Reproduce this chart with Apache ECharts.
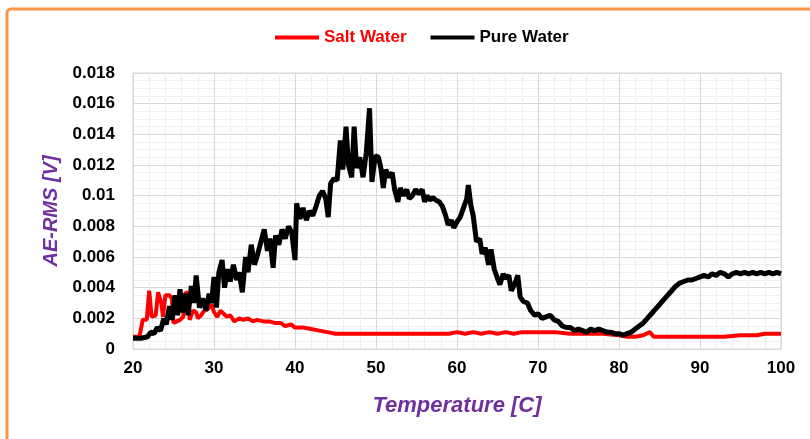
<!DOCTYPE html>
<html>
<head>
<meta charset="utf-8">
<script src="https://cdn.jsdelivr.net/npm/echarts@6/dist/echarts.min.js"></script>
<style>
html,body{margin:0;padding:0;background:#fff;}
#chart{width:810px;height:439px;}
</style>
</head>
<body>
<div id="chart"></div>
<script>
// Pure Water (black) series
var pureTemp = [20,21,21.8,22.2,22.6,23.0,23.4,23.8,24.1,24.5,24.8,25.2,25.5,25.8,26.1,26.5,26.8,27.2,27.5,27.8,28.2,28.6,29.0,29.4,29.7,30.0,30.3,30.6,31.0,31.3,31.7,32.0,32.4,32.8,33.1,33.5,33.9,34.2,34.6,35.0,35.4,35.8,36.2,36.6,36.9,37.3,37.6,38.0,38.4,38.8,39.2,39.6,40.0,40.2,40.6,41.0,41.4,41.8,42.2,42.6,43.0,43.4,43.8,44.1,44.4,44.8,45.2,45.6,45.9,46.3,46.6,47.0,47.3,47.6,48.0,48.4,48.8,49.2,49.5,49.9,50.3,50.6,50.9,51.2,51.6,52.0,52.3,52.7,53.0,53.4,53.8,54.1,54.5,54.9,55.3,55.7,56.0,56.3,56.7,57.0,57.4,57.8,58.2,58.6,58.9,59.3,59.6,60.0,60.4,60.8,61.2,61.4,61.7,62.0,62.4,62.8,63.1,63.5,63.9,64.2,64.6,65.0,65.3,65.7,66.0,66.4,66.7,67.1,67.5,67.8,68.2,68.7,69.1,69.6,70.0,70.5,71.0,71.5,72.0,72.5,73.0,73.5,74.0,74.5,75.0,75.5,76.0,76.5,77.0,77.5,78.0,78.5,79.0,79.5,80.0,80.5,81.0,81.5,82.0,82.5,83.0,83.5,84.0,84.5,85.0,85.5,86.0,86.5,87.0,87.5,88.0,88.5,89.0,89.5,90.0,90.5,91.0,91.5,92.0,92.5,93.0,93.5,94.0,94.5,95.0,95.5,96.0,96.5,97.0,97.5,98.0,98.5,99.0,99.5,100];
var pureValues = [0.0007,0.0007,0.0008,0.0011,0.0010,0.0014,0.0012,0.0020,0.0016,0.0028,0.0019,0.0035,0.0022,0.0039,0.0024,0.0036,0.0022,0.0041,0.0030,0.0048,0.0027,0.0033,0.0025,0.0036,0.0030,0.0047,0.0027,0.0050,0.0058,0.0040,0.0052,0.0044,0.0055,0.0045,0.0050,0.0037,0.0060,0.0050,0.0068,0.0055,0.0062,0.0070,0.0078,0.0064,0.0072,0.0053,0.0074,0.0068,0.0078,0.0072,0.0080,0.0076,0.0058,0.0095,0.0085,0.0092,0.0084,0.0090,0.0087,0.0093,0.0100,0.0103,0.0098,0.0086,0.0108,0.0111,0.0110,0.0136,0.0117,0.0145,0.0120,0.0112,0.0145,0.0118,0.0125,0.0112,0.0128,0.0157,0.0109,0.0126,0.0125,0.0118,0.0105,0.0117,0.0112,0.0115,0.0104,0.0096,0.0105,0.0100,0.0104,0.0098,0.0100,0.0104,0.0101,0.0104,0.0096,0.0100,0.0097,0.0099,0.0097,0.0096,0.0093,0.0087,0.0081,0.0084,0.0079,0.0083,0.0086,0.0092,0.0098,0.0107,0.0094,0.0087,0.0070,0.0072,0.0062,0.0066,0.0055,0.0065,0.0052,0.0046,0.0042,0.0049,0.0046,0.0048,0.0038,0.0042,0.0048,0.0034,0.0031,0.0030,0.0025,0.0022,0.0023,0.0020,0.0021,0.0022,0.0019,0.0018,0.0015,0.0014,0.0014,0.0012,0.0013,0.0012,0.0011,0.0013,0.0012,0.0013,0.0012,0.0011,0.0011,0.0010,0.0010,0.0009,0.0010,0.0011,0.0013,0.0015,0.0017,0.0020,0.0023,0.0026,0.0029,0.0032,0.0035,0.0038,0.0041,0.0043,0.0044,0.0045,0.0045,0.0046,0.0047,0.0048,0.0047,0.0049,0.0048,0.0050,0.0049,0.0047,0.0049,0.0050,0.0049,0.0050,0.0049,0.0050,0.0049,0.0050,0.0049,0.0050,0.0049,0.0050,0.0049];

// Salt Water (red) series
var saltTemp = [20,20.8,21.2,21.7,22.0,22.3,22.8,23.1,23.5,23.7,24.0,24.5,24.8,25.0,25.4,25.8,26.2,26.5,26.8,27.0,27.4,27.8,28.0,28.4,28.8,29.2,29.7,30.0,30.4,30.8,31.2,31.6,32.0,32.5,33.1,33.6,34.2,34.8,35.3,36.1,36.8,37.5,38.2,38.8,39.5,40,41,42,43,44,45,47,49,51,53,55,57,59,60,61,62,63,64,65,66,67,68,69,70,72,74,76,78,80,81,82,83,83.8,84.3,85,87,89,91,93,95,97,98,100];
var saltValues = [0.0008,0.0008,0.0019,0.0019,0.0038,0.0021,0.0022,0.0037,0.0030,0.0021,0.0035,0.0035,0.0033,0.0017,0.0018,0.0019,0.0021,0.0037,0.0036,0.0019,0.0025,0.0024,0.0020,0.0022,0.0025,0.0026,0.0029,0.0024,0.0021,0.0025,0.0023,0.0021,0.0022,0.0018,0.0020,0.0019,0.0020,0.0018,0.0019,0.0018,0.0018,0.0017,0.0017,0.0015,0.0016,0.0014,0.0014,0.0013,0.0012,0.0011,0.0010,0.0010,0.0010,0.0010,0.0010,0.0010,0.0010,0.0010,0.0011,0.0010,0.0011,0.0010,0.0011,0.0010,0.0011,0.0010,0.0011,0.0011,0.0011,0.0011,0.0010,0.0010,0.0010,0.0009,0.0008,0.0008,0.0009,0.0011,0.0008,0.0008,0.0008,0.0008,0.0008,0.0008,0.0009,0.0009,0.0010,0.0010];

var xTicks = [20,30,40,50,60,70,80,90,100];
var yTicks = ['0','0.002','0.004','0.006','0.008','0.01','0.012','0.014','0.016','0.018'];

function pairs(xs, ys){ return xs.map(function(x,i){ return [x, ys[i]]; }); }

var FONT = "'Liberation Sans Narrow','Liberation Sans','Noto Sans',sans-serif";
var chart = echarts.init(document.getElementById('chart'), null, {renderer:'canvas'});
chart.setOption({
  backgroundColor:'#ffffff',
  animation:false,
  graphic:[{
    type:'rect', z:-10,
    shape:{x:7, y:9, width:840, height:480, r:4},
    style:{fill:'none', stroke:'#F79646', lineWidth:3}
  }],
  legend:{
    top:24, left:270,
    itemWidth:44, itemHeight:4, itemGap:24,
    icon:'rect',
    textStyle:{fontFamily:FONT, fontWeight:'bold', fontSize:17, color:'#000'},
    data:[
      {name:'Salt Water', textStyle:{color:'#ff0000'}},
      {name:'Pure Water', textStyle:{color:'#000000'}}
    ]
  },
  grid:{left:133, right:29, top:73, bottom:90, show:true, borderColor:'#d9d9d9', borderWidth:1},
  xAxis:{
    type:'value', min:xTicks[0], max:xTicks[xTicks.length-1], interval:10,
    name:'Temperature [C]', nameLocation:'middle', nameGap:46,
    nameTextStyle:{fontFamily:FONT, fontWeight:'bold', fontStyle:'italic', fontSize:22, color:'#7030A0'},
    axisLine:{show:true, lineStyle:{color:'#d9d9d9'}},
    axisTick:{show:false},
    axisLabel:{fontFamily:FONT, fontWeight:'bold', fontSize:17, color:'#000', margin:11},
    splitLine:{show:true, lineStyle:{color:'#d9d9d9', width:1}},
    minorTick:{show:false, splitNumber:5},
    minorSplitLine:{show:true, lineStyle:{color:'#efefef', width:1}}
  },
  yAxis:{
    type:'value', min:0, max:0.018, interval:0.002,
    name:'AE-RMS [V]', nameLocation:'middle', nameGap:72, nameRotate:90,
    nameTextStyle:{fontFamily:FONT, fontWeight:'bold', fontStyle:'italic', fontSize:20, color:'#7030A0'},
    axisLine:{show:true, lineStyle:{color:'#d9d9d9'}},
    axisTick:{show:false},
    axisLabel:{fontFamily:FONT, fontWeight:'bold', fontSize:17, color:'#000', margin:18,
      formatter:function(v){ var i = Math.round(v/0.002); return yTicks[i]; }},
    splitLine:{show:true, lineStyle:{color:'#d9d9d9', width:1}},
    minorTick:{show:false, splitNumber:4},
    minorSplitLine:{show:true, lineStyle:{color:'#efefef', width:1}}
  },
  series:[
    {name:'Salt Water', type:'line', data:pairs(saltTemp, saltValues), showSymbol:false, symbol:'none',
      lineStyle:{color:'#ff0000', width:4}, itemStyle:{color:'#ff0000'}, z:2},
    {name:'Pure Water', type:'line', data:pairs(pureTemp, pureValues), showSymbol:false, symbol:'none',
      lineStyle:{color:'#000000', width:5}, itemStyle:{color:'#000000'}, z:3}
  ]
});
</script>
</body>
</html>
